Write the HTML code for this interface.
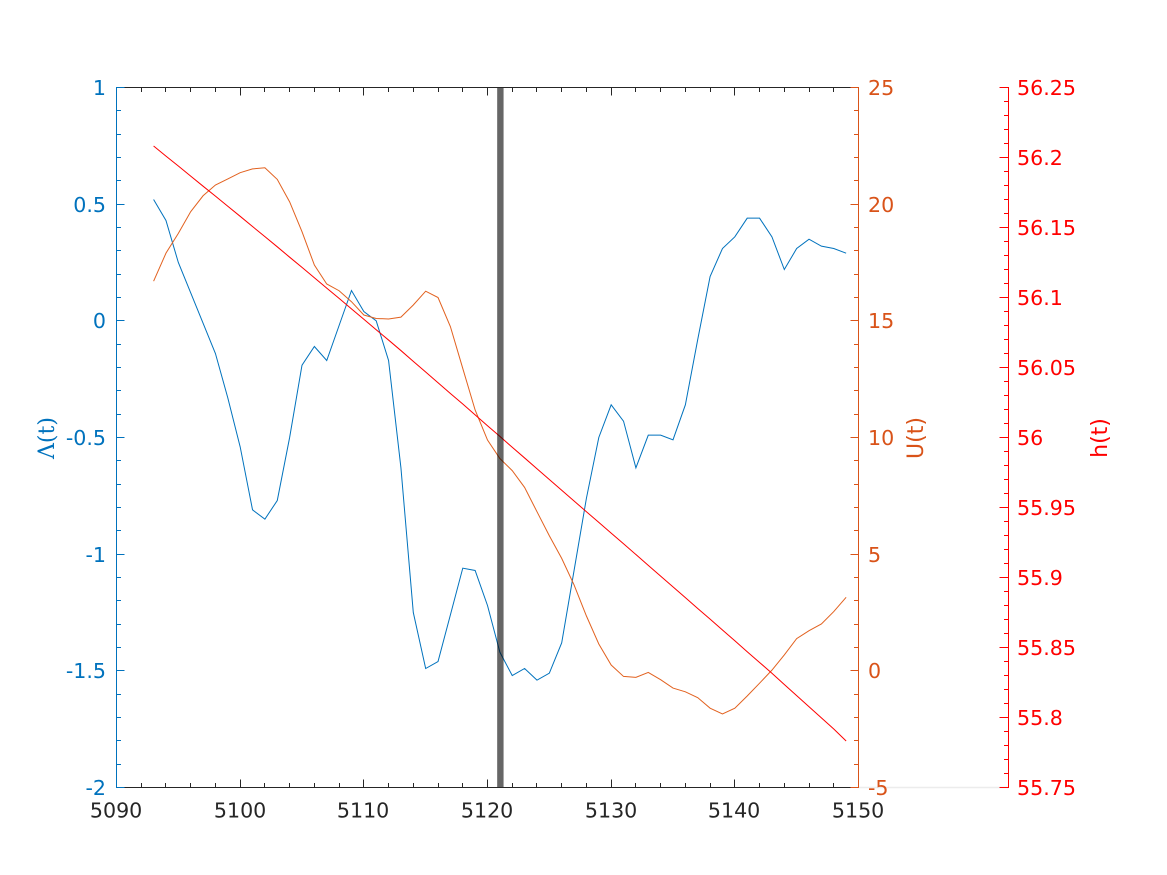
<!DOCTYPE html>
<html>
<head>
<meta charset="utf-8">
<style>
html,body{margin:0;padding:0;background:#fff;}
svg{display:block;font-family:"DejaVu Sans","Liberation Sans",sans-serif;}
</style>
</head>
<body>
<svg id="chart" width="1167" height="875" viewBox="0 0 1167 875" xmlns="http://www.w3.org/2000/svg"></svg>
<script>
const timeValues = [5093,5094,5095,5096,5097,5098,5099,5100,5101,5102,5103,5104,5105,5106,5107,5108,5109,5110,5111,5112,5113,5114,5115,5116,5117,5118,5119,5120,5121,5122,5123,5124,5125,5126,5127,5128,5129,5130,5131,5132,5133,5134,5135,5136,5137,5138,5139,5140,5141,5142,5143,5144,5145,5146,5147,5148,5149];
const lambdaValues = [0.52,0.43,0.25,0.12,-0.01,-0.14,-0.33,-0.54,-0.81,-0.85,-0.77,-0.50,-0.19,-0.11,-0.17,-0.02,0.13,0.04,0.00,-0.17,-0.63,-1.25,-1.49,-1.46,-1.26,-1.06,-1.07,-1.22,-1.42,-1.52,-1.49,-1.54,-1.51,-1.38,-1.07,-0.76,-0.50,-0.36,-0.43,-0.63,-0.49,-0.49,-0.51,-0.36,-0.08,0.19,0.31,0.36,0.44,0.44,0.36,0.22,0.31,0.35,0.32,0.31,0.29];
const uValues = [16.7,17.9,18.75,19.68,20.36,20.82,21.08,21.35,21.51,21.56,21.06,20.1,18.82,17.39,16.58,16.29,15.82,15.25,15.1,15.08,15.16,15.68,16.27,16.0,14.75,12.96,11.18,9.89,9.1,8.58,7.86,6.82,5.79,4.82,3.68,2.35,1.15,0.25,-0.24,-0.28,-0.07,-0.38,-0.74,-0.9,-1.15,-1.6,-1.85,-1.6,-1.08,-0.53,0.03,0.68,1.38,1.72,2.01,2.54,3.15];
const hValues = [56.2082,56.2010,56.1939,56.1867,56.1795,56.1724,56.1652,56.1580,56.1507,56.1435,56.1362,56.1288,56.1215,56.1141,56.1067,56.0994,56.0919,56.0845,56.0770,56.0696,56.0621,56.0544,56.0468,56.0391,56.0314,56.0239,56.0162,56.0084,56.0008,55.9930,55.9854,55.9777,55.9700,55.9623,55.9546,55.9470,55.9394,55.9317,55.9241,55.9164,55.9087,55.9010,55.8933,55.8856,55.8779,55.8703,55.8625,55.8548,55.8470,55.8393,55.8316,55.8236,55.8156,55.8077,55.7997,55.7918,55.7832];
const markerTime = [5121];
const xTickLabels = ['5090','5100','5110','5120','5130','5140','5150'];
const lambdaTickLabels = ['-2','-1.5','-1','-0.5','0','0.5','1'];
const uTickLabels = ['-5','0','5','10','15','20','25'];
const hTickLabels = ['55.75','55.8','55.85','55.9','55.95','56','56.05','56.1','56.15','56.2','56.25'];

const svg = document.getElementById('chart');
const NS = 'http://www.w3.org/2000/svg';
const left = 116.5, right = 858.5, top_ = 87.5, bottom = 787.5, hAxisX = 1008.5;
const BLUE = '#0072BD', ORANGE = '#D95319', RED = '#FF0000', DARK = '#262626';
const TICK_FONT = 20.6, TITLE_FONT = 22;

function rangeOf(labels){ return [parseFloat(labels[0]), parseFloat(labels[labels.length-1])]; }
function scale(labels, a, b){
  const r = rangeOf(labels);
  return v => a + (v - r[0]) * (b - a) / (r[1] - r[0]);
}
const xScale = scale(xTickLabels, left, right);
const lambdaScale = scale(lambdaTickLabels, bottom, top_);
const uScale = scale(uTickLabels, bottom, top_);
const hScale = scale(hTickLabels, bottom, top_);

function make(tag, attrs, parent){
  const e = document.createElementNS(NS, tag);
  for (const k in attrs) e.setAttribute(k, attrs[k]);
  (parent || svg).appendChild(e);
  return e;
}
function group(name){
  const g = make('g', {});
  
  
  return g;
}
function tickLine(parent, x1, y1, x2, y2, color, name){
  const l = make('line', {x1:x1, y1:y1, x2:x2, y2:y2, stroke:color, 'stroke-width':1}, parent);
  
  
  return l;
}
function label(parent, x, y, text, color, anchor, name){
  const t = make('text', {x:x, y:y, fill:color, 'font-size':TICK_FONT, 'text-anchor':anchor}, parent);
  t.textContent = text;
  
  
  return t;
}
// minor ticks between consecutive major tick labels
function minorValues(labels, divisions){
  const out = [];
  for (let i = 0; i < labels.length - 1; i++){
    const a = parseFloat(labels[i]), b = parseFloat(labels[i+1]);
    for (let j = 1; j < divisions; j++) out.push(a + (b - a) * j / divisions);
  }
  return out;
}
function yAxis(name, labels, divisions, sc, axisX, dir, color, labelX, anchor, major, minor){
  const g = group(name);
  labels.forEach(s => {
    const y = Math.round(sc(parseFloat(s)) - 0.5) + 0.5;
    tickLine(g, axisX, y, axisX + dir * major, y, color, name + '-major-tick');
    label(g, labelX, y + 7.4, s, color, anchor, name + '-tick-label');
  });
  minorValues(labels, divisions).forEach(v => {
    const y = Math.round(sc(v) - 0.5) + 0.5;
    tickLine(g, axisX, y, axisX + dir * minor, y, color, name + '-minor-tick');
  });
  tickLine(g, axisX, top_ - 0.5, axisX, bottom + 0.5, color, name + '-line');
}
function polyline(name, xs, ys, sx, sy, color){
  const pts = xs.map((x, i) => sx(x).toFixed(2) + ',' + sy(ys[i]).toFixed(2)).join(' ');
  const p = make('polyline', {points:pts, fill:'none', stroke:color, 'stroke-width':1, 'stroke-linejoin':'miter'});
  
  
  return p;
}

// faint baseline linking right-hand axes
const faint = make('line', {x1:858.5, y1:787.5, x2:1008.5, y2:787.5, stroke:'#ececec', 'stroke-width':1.5});



// series
polyline('lambda-series', timeValues, lambdaValues, xScale, lambdaScale, BLUE);
polyline('u-series', timeValues, uValues, xScale, uScale, '#E2611F');
polyline('h-series', timeValues, hValues, xScale, hScale, RED);

// vertical marker
const markerX = xScale(markerTime[0]) + 0.5;
const markerLine = make('line', {x1:markerX, y1:top_, x2:markerX, y2:bottom, stroke:'rgba(0,0,0,0.6)', 'stroke-width':6.4});



// x axes (bottom + top)
const xg = group('x-axis');
xTickLabels.forEach(s => {
  const x = Math.round(xScale(parseFloat(s)) - 0.5) + 0.5;
  tickLine(xg, x, bottom, x, bottom - 8, DARK, 'x-major-tick');
  tickLine(xg, x, top_, x, top_ + 8, DARK, 'x-top-major-tick');
  label(xg, x - 0.4, 817.5, s, DARK, 'middle', 'x-tick-label');
});
minorValues(xTickLabels, 5).forEach(v => {
  const x = Math.round(xScale(v) - 0.5) + 0.5;
  tickLine(xg, x, bottom, x, bottom - 4.5, DARK, 'x-minor-tick');
  tickLine(xg, x, top_, x, top_ + 4.5, DARK, 'x-top-minor-tick');
});
tickLine(xg, left, bottom, right, bottom, DARK, 'x-axis-line');
tickLine(xg, left, top_, right, top_, DARK, 'x-top-axis-line');

// y axes
yAxis('lambda-axis', lambdaTickLabels, 5, lambdaScale, left, 1, BLUE, 106, 'end', 8, 4.5);
yAxis('u-axis', uTickLabels, 5, uScale, right, -1, ORANGE, 868, 'start', 8, 4.5);
yAxis('h-axis', hTickLabels, 5, hScale, hAxisX, -1, RED, 1017, 'start', 9, 4.5);

// axis titles
function title(name, x, y, text, color, family){
  const t = make('text', {x:x, y:y, fill:color, 'font-size':TITLE_FONT, 'text-anchor':'middle', transform:'rotate(-90 ' + x + ' ' + y + ')'});
  if (family) t.setAttribute('font-family', family);
  t.textContent = text;
  
  
}
title('lambda-axis-title', 54, 438, 'Λ(t)', BLUE, '"DejaVu Serif","Liberation Serif",serif');
title('u-axis-title', 923, 438, 'U(t)', ORANGE);
title('h-axis-title', 1107, 438, 'h(t)', RED);
</script>
</body>
</html>
